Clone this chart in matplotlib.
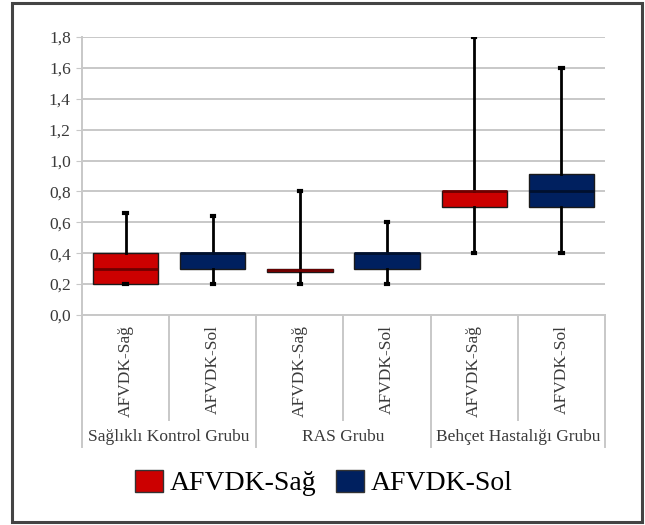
import matplotlib.pyplot as plt
from matplotlib.patches import Patch, Rectangle

# Veri
groups = ["Sağlıklı Kontrol Grubu", "RAS Grubu", "Behçet Hastalığı Grubu"]
series = ["AFVDK-Sağ", "AFVDK-Sol"]
box_labels = ["AFVDK-Sağ", "AFVDK-Sol"] * 3
whislo = [0.20, 0.20, 0.20, 0.20, 0.40, 0.40]
q1 = [0.20, 0.30, 0.28, 0.30, 0.70, 0.70]
med = [0.30, 0.40, 0.29, 0.40, 0.80, 0.80]
q3 = [0.40, 0.40, 0.30, 0.40, 0.80, 0.91]
whishi = [0.66, 0.64, 0.80, 0.60, 1.80, 1.60]
yticks = [0.0, 0.2, 0.4, 0.6, 0.8, 1.0, 1.2, 1.4, 1.6, 1.8]

red = "#cc0000"
navy = "#00205f"
fills = [red, navy] * 3
medcols = ["#6e0000", "#00102e"] * 3

plt.rcParams['font.family'] = ['Liberation Serif', 'DejaVu Serif']

fig = plt.figure(figsize=(6.45, 5.25), dpi=100)
ax = fig.add_axes([0.127, 0.40, 0.811, 0.5295])

stats = []
for i in range(len(box_labels)):
    stats.append({'whislo': whislo[i], 'q1': q1[i], 'med': med[i],
                  'q3': q3[i], 'whishi': whishi[i], 'fliers': [],
                  'label': box_labels[i]})

pos = list(range(len(stats)))
bp = ax.bxp(stats, positions=pos, widths=0.75, patch_artist=True,
            showfliers=False, capwidths=0.025, zorder=3)
for i, b in enumerate(bp['boxes']):
    b.set_facecolor(fills[i])
    b.set_edgecolor("#1a1a1a")
    b.set_linewidth(1.0)
for i, m in enumerate(bp['medians']):
    m.set_color(medcols[i])
    m.set_linewidth(2.0)
for w in bp['whiskers']:
    w.set_color("black")
    w.set_linewidth(2.0)
for c in bp['caps']:
    c.set_color("black")
    c.set_linewidth(3)

ax.set_xlim(-0.5, 5.5)
ax.set_ylim(0, 1.8)
ax.set_yticks(yticks)
ax.set_yticklabels([f"{v:.1f}".replace(".", ",") for v in yticks])
ax.yaxis.grid(True, color="#c8c8c8", linewidth=1.4, zorder=0)
ax.set_axisbelow(True)
ax.tick_params(axis='y', length=4, color="#c8c8c8", labelsize=12.5,
               labelcolor="#3a3a3a", pad=4)

ax.set_xticks(pos)
ax.set_xticklabels(box_labels, rotation=90, fontsize=12.5, color="#3a3a3a")
ax.tick_params(axis='x', length=0, pad=7)

for s in ['top', 'right', 'bottom']:
    ax.spines[s].set_visible(False)
ax.spines['left'].set_color("#c8c8c8")
ax.spines['left'].set_linewidth(1.4)

# kategori ayırıcı çizgiler
xt = ax.get_xaxis_transform()
for x in [0.5, 2.5, 4.5]:
    ax.plot([x, x], [0, -0.378], transform=xt, color="#c8c8c8",
            linewidth=1.4, clip_on=False)
for x in [-0.5, 1.5, 3.5, 5.5]:
    ax.plot([x, x], [0, -0.475], transform=xt, color="#c8c8c8",
            linewidth=1.4, clip_on=False)
ax.plot([-0.5, 5.5], [0, 0], transform=xt, color="#c8c8c8",
        linewidth=1.4, clip_on=False)

for g, name in enumerate(groups):
    ax.text(2 * g + 0.5, -0.44, name, transform=xt, ha='center', va='center',
            fontsize=12.5, color="#3a3a3a")

handles = [Patch(facecolor=red, edgecolor="#333333", label=series[0]),
           Patch(facecolor=navy, edgecolor="#333333", label=series[1])]
fig.legend(handles=handles, loc='center', bbox_to_anchor=(0.502, 0.08),
           ncol=2, frameon=False, fontsize=20, handlelength=1.0,
           handleheight=0.85, handletextpad=0.25, columnspacing=0.7)

fig.patches.append(Rectangle((0.019, 0.006), 0.976, 0.988,
                             transform=fig.transFigure, fill=False,
                             edgecolor="#444444", linewidth=2.2))

fig.savefig("out.png", dpi=100)
